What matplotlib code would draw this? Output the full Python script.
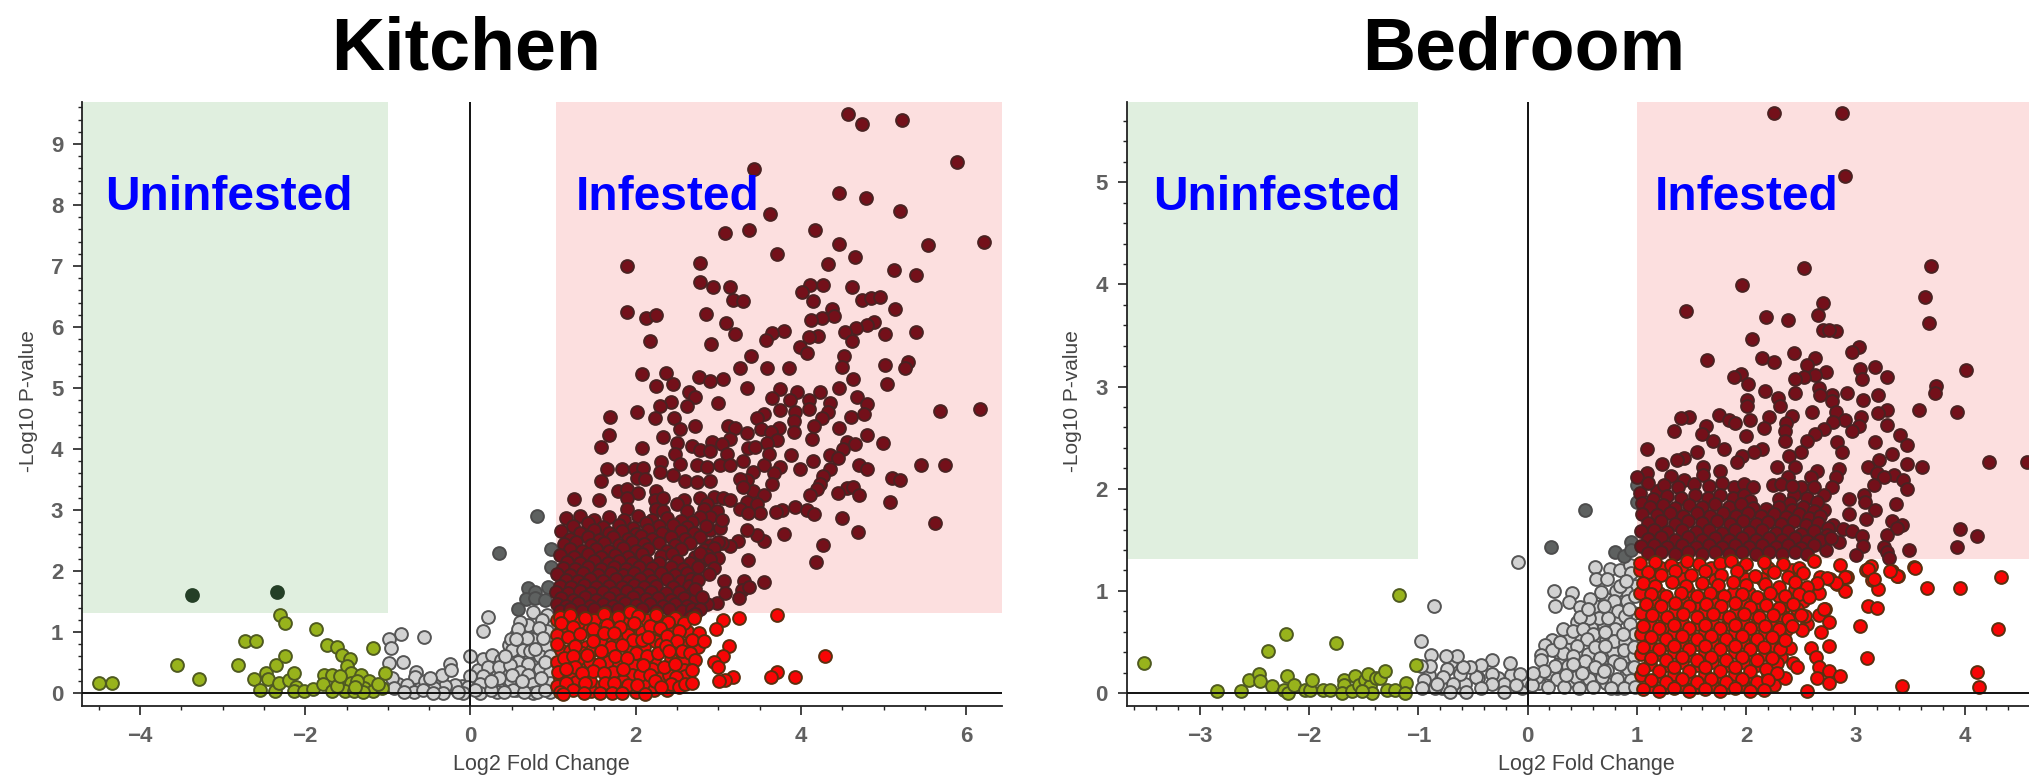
import numpy as np
import matplotlib
matplotlib.use('Agg')
import matplotlib.pyplot as plt

plt.rcParams['font.family'] = ['Liberation Sans', 'DejaVu Sans']

W, H = 2029, 777

# values as (log2 fold change, -log10 p)
KITCHEN_GREEN = [(-4.49,.17),(-4.34,.17),(-3.55,.45),(-3.29,.22),(-2.81,.45),(-2.73,.85),(-2.6,.85),(-2.62,.22),
	(-2.55,.04),(-2.47,.32),(-2.45,.22),(-2.3,1.28),(-2.24,1.14),(-2.35,.45),(-2.24,.6),(-2.36,.03),(-2.32,.17),
	(-2.2,.21),(-2.14,.32),(-2.11,.1),(-2.13,.03),(-2.02,.03),(-1.9,.06),(-1.87,1.05),(-1.74,.79),(-1.62,.76),
	(-1.55,.62),(-1.46,.55),(-1.5,.44),(-1.44,.32),(-1.77,.29),(-1.67,.29),(-1.78,.15),(-1.67,.03),(-1.54,.17),
	(-1.44,.17),(-1.52,.03),(-1.32,.29),(-1.23,.19),(-1.29,.08),(-1.18,.73),(-1.18,.03),(-1.03,.33),(-1.07,.08),
	(-1.41,.03),(-1.37,.19),(-1.62,.12),(-1.3,.02),(-1.58,.28),(-1.4,.1),(-1.12,.15)]
KITCHEN_DARKGREEN = [(-3.37,1.61),(-2.34,1.65)]
KITCHEN_GREY = [(.76,1.32),(.93,1.28),(.216,1.25),(.147,1.02),(.86,1.2),(.6,1.17),(.58,1.04),(.93,1.02),(.83,1.06),
	(.49,.88),(.74,.88),(.5,.7),(.63,.7),(.72,.68),(.91,.77),(.84,.6),(.96,.6),(0,.6),(.155,.55),(.264,.62),(.37,.54),
	(.57,.51),(.7,.47),(.84,.4),(.96,.35),(.216,.43),(.345,.42),(.48,.46),(.6,.35),(.7,.29),(.48,.21),(.32,.13),
	(.155,.27),(.115,.15),(.64,.13),(.76,.15),(.96,.16),(0,.27),(-.03,.1),(-.19,.13),(-.31,.12),(-.34,.29),(-.25,.47),
	(-.24,.38),(-.66,.35),(-.67,.26),(-.56,.91),(-.84,.97),(-.99,.88),(-.96,.73),(-.99,.49),(-.82,.51),(-.95,.24),
	(-.93,.08),(-.77,.13),(-.68,.02),(-.55,.19),(-.44,.08),(-.49,.24),(-.57,.05),(-.33,0),(-.09,0),(.115,0),(.32,.02),
	(.52,.05),(.76,0),(.96,.02),(.25,.05),(.4,.02),(.65,.02),(.8,.02),(.9,.05),(.5,.3),(.35,.25),(.25,.2),(.05,.05),
	(-.15,.02),(-.45,0),(-.8,.02),(.85,.25),(.9,.5),(.62,.2),(.42,.6),(.78,.72),(.68,.9),(.88,.9),(.55,.88)]
KITCHEN_GREY_FILL = [(.3,.3),(.2,.12),(.42,.15),(.55,.05),(.7,.08),(.85,.1),(.56,.25),(.72,.18),(.9,.2),(.42,.38),(.52,.42),(.65,.4),
	(.78,.35),(.9,.38),(.28,.5),(.5,.58),(.62,.6),(.72,.58),(.82,.5),(.6,.82),(.47,.78),(.68,.78),(.82,.8),(.98,.85),(.7,1.12),(.82,.95),
	(.95,1.12),(.55,.95),(.4,.1),(.08,.12),(.18,.35),(.09,.38),(-.1,.12),(-.22,.1),(-.38,.12),(-.6,.12),(-.88,.15)]
KITCHEN_DARKGREY = [(.345,2.3),(.97,2.36),(.97,2.06),(.7,1.72),(.78,1.66),(.67,1.54),(.78,1.55),(.94,1.74),(.9,1.52),
	(.575,1.37),(.8,2.9)]
KITCHEN_DARK = [(4.57,9.5),(4.74,9.33),(5.22,9.39),(5.89,8.71),(3.43,8.59),(4.46,8.19),(4.78,8.11),(5.2,7.91),(3.62,7.85),
	(3.08,7.54),(3.37,7.59),(4.17,7.59),(4.46,7.36),(5.53,7.34),(6.21,7.39),(3.71,7.19),(4.65,7.14),(1.89,7.0),(2.78,7.05),
	(4.33,7.03),(5.12,6.94),(5.39,6.85),(2.78,6.74),(2.93,6.65),(3.14,6.65),(4.11,6.69),(4.27,6.69),(4.01,6.58),(4.61,6.65),
	(3.18,6.44),(3.3,6.42),(4.14,6.42),(4.74,6.45),(4.84,6.48),(4.96,6.49),(5.14,6.29),(1.89,6.25),(2.85,6.22),(2.12,6.15),
	(2.25,6.2),(4.37,6.29),(4.4,6.18),(4.25,6.15),(4.12,6.11),(3.09,6.06),(3.2,5.88),(4.88,6.09),(4.8,6.03),(4.66,5.98),
	(4.53,5.92),(5.01,5.88),(5.39,5.92),(2.17,5.77),(2.91,5.72),(3.79,5.94),(3.65,5.9),(3.58,5.79),(4.21,5.86),(4.09,5.83),
	(4.61,5.77),(3.99,5.68),(4.07,5.57),(3.39,5.52),(4.52,5.52),(4.5,5.34),(3.26,5.32),(3.59,5.32),(3.85,5.32),(5.01,5.37),
	(5.29,5.43),(5.26,5.32),(2.08,5.23),(2.36,5.25),(4.63,5.14),(5.04,5.06),(2.76,5.18),(2.9,5.11),(3.06,5.14),(2.25,5.03),
	(2.45,5.06),(3.34,5.0),(4.46,5.0),(2.64,4.93),(3.75,4.99),(3.95,4.93),(4.23,4.93),(4.67,4.86),(2.72,4.86),(3.65,4.84),
	(3.87,4.8),(4.1,4.8),(2.43,4.77),(2.99,4.75),(4.35,4.75),(4.8,4.73),(5.68,4.63),(6.16,4.66),(2.29,4.7),(2.62,4.7),
	(3.75,4.64),(4.09,4.66),(4.33,4.6),(2.02,4.6),(1.69,4.53),(3.93,4.6),(4.76,4.57),(3.55,4.57),(2.23,4.5),(2.46,4.5),
	(3.46,4.5),(4.6,4.52),(3.91,4.46),(4.25,4.5),(4.15,4.37),(2.54,4.32),(2.72,4.37),(3.12,4.37),(3.2,4.34),(3.73,4.35),
	(3.91,4.28),(4.46,4.35),(3.34,4.27),(3.52,4.32),(3.63,4.28),(1.67,4.23),(2.33,4.2),(4.8,4.23),(3.71,4.14),(3.59,4.1),
	(4.13,4.17),(2.5,4.1),(3.14,4.17),(4.99,4.09),(4.55,4.12),(4.65,4.08),(4.51,4.0),(2.92,4.12),(3.04,4.08),(2.68,4.05),
	(2.78,3.99),(1.58,4.03),(2.07,4.01),(3.36,4.01),(3.44,4.03),(2.48,3.92),(3.1,3.92),(2.9,3.96),(3.88,3.9),(4.35,3.9),
	(4.45,3.85),(4.14,3.81),(3.3,3.81),(3.61,3.91),(2.54,3.76),(2.31,3.78),(2.74,3.74),(2.86,3.71),(3.02,3.74),(3.14,3.74),
	(5.45,3.73),(5.74,3.73),(4.7,3.74),(4.8,3.67),(3.75,3.71),(3.55,3.73),(1.65,3.67),(1.83,3.67),(1.99,3.67),(2.09,3.69),
	(3.99,3.67),(4.35,3.67),(3.42,3.63),(3.67,3.6),(4.27,3.56),(2.29,3.63),(2.45,3.58),(2.01,3.53),(2.11,3.51),(1.58,3.47),
	(3.34,3.49),(5.1,3.53),(5.2,3.49),(2.6,3.47),(2.74,3.46),(2.9,3.48),(4.23,3.42),(3.65,3.42),(3.26,3.5),(4.55,3.36),
	(4.63,3.38),(4.45,3.28),(4.19,3.35),(1.79,3.31),(1.89,3.35),(2.03,3.28),(2.25,3.31),(3.42,3.31),(3.3,3.38),(4.7,3.24),
	(4.11,3.24),(3.55,3.24),(1.25,3.18),(1.56,3.17),(1.89,3.2),(2.23,3.17),(2.33,3.2),(2.78,3.2),(2.94,3.22),(3.06,3.2),
	(3.14,3.17),(2.58,3.17),(2.5,3.1),(5.07,3.13),(3.34,3.13),(2.86,3.1),(3.46,3.1),(3.93,3.05),(3.77,3.0),(3.69,2.97),
	(4.07,3.0),(4.15,2.93),(3.5,2.95),(1.89,3.01),(2.25,3.02),(2.33,2.99),(2.62,2.99),(2.82,3.02),(2.98,2.99),(3.26,3.02),
	(3.36,2.95),(4.5,2.87),(5.62,2.79),(4.69,2.64),(3.79,2.61),(4.27,2.43),(4.18,2.15),(3.36,2.18),(3.55,2.49),(3.46,2.59),
	(3.34,2.67),(3.24,2.49),(3.14,2.41),(3.04,2.45),(2.9,2.67),(3.02,2.7),(2.9,2.88),(3.04,2.84),(2.78,2.88),(2.68,2.81),
	(1.15,2.86),(1.33,2.9),(1.5,2.83),(1.67,2.88),(1.86,2.84),(2.03,2.9),(2.2,2.83),(2.38,2.87),(2.55,2.82),
	(1.24,2.74),(1.42,2.78),(1.6,2.72),(1.8,2.76),(1.97,2.7),(2.12,2.78),(2.28,2.73),(2.45,2.76),(2.62,2.72),(2.85,2.74),
	(1.1,2.65),(1.33,2.62),(1.5,2.67),(1.68,2.63),(1.83,2.66),(2.0,2.61),(2.15,2.67),(2.32,2.63),(2.55,2.66),(2.7,2.62),
	(1.2,2.53),(1.42,2.56),(1.56,2.51),(1.72,2.55),(1.9,2.52),(2.06,2.57),(2.2,2.52),(2.42,2.55),(2.6,2.52),(2.78,2.56),
	(1.13,2.44),(1.28,2.47),(1.46,2.43),(1.62,2.46),(1.8,2.42),(1.95,2.47),(2.1,2.44),(2.28,2.46),(2.48,2.42),(2.65,2.45),(2.9,2.43),(3.0,2.47),
	(1.2,2.36),(1.35,2.33),(1.52,2.36),(1.67,2.33),(1.85,2.37),(2.0,2.33),(2.15,2.36),(2.38,2.33),(2.55,2.36),(2.82,2.34),(2.95,2.37),
	(1.08,2.26),(1.25,2.23),(1.42,2.27),(1.58,2.23),(1.75,2.26),(1.9,2.23),(2.07,2.27),(2.3,2.24),(2.44,2.27),(2.72,2.23),(2.86,2.26),(3.0,2.22),
	(1.17,2.15),(1.33,2.13),(1.5,2.17),(1.66,2.13),(1.8,2.16),(1.95,2.13),(2.12,2.17),(2.28,2.13),(2.5,2.16),(2.65,2.13),(2.8,2.16),
	(1.12,2.05),(1.27,2.03),(1.42,2.07),(1.58,2.03),(1.73,2.06),(1.88,2.03),(2.04,2.07),(2.2,2.04),(2.42,2.06),(2.57,2.03),(2.75,2.06),
	(1.05,1.95),(1.2,1.93),(1.36,1.97),(1.54,1.93),(1.7,1.96),(1.84,1.93),(1.98,1.97),(2.15,1.94),(2.3,1.96),(2.48,1.93),(2.62,1.96),
	(1.15,1.85),(1.3,1.83),(1.44,1.87),(1.6,1.83),(1.76,1.86),(1.9,1.83),(2.05,1.87),(2.2,1.84),(2.38,1.86),(2.55,1.83),(2.67,1.86),
	(1.08,1.75),(1.22,1.73),(1.37,1.77),(1.52,1.73),(1.68,1.76),(1.83,1.73),(1.98,1.77),(2.1,1.74),(2.25,1.76),(2.45,1.73),(2.64,1.76),
	(1.04,1.65),(1.18,1.63),(1.33,1.67),(1.46,1.63),(1.6,1.66),(1.74,1.63),(1.89,1.67),(2.03,1.64),(2.18,1.66),(2.36,1.63),(2.52,1.66),(2.68,1.63),
	(1.1,1.55),(1.24,1.53),(1.38,1.57),(1.52,1.53),(1.67,1.56),(1.82,1.53),(1.97,1.57),(2.12,1.54),(2.27,1.56),(2.42,1.53),(2.58,1.56),(2.72,1.52),
	(1.05,1.45),(1.15,1.43),(1.3,1.47),(1.44,1.43),(1.6,1.46),(1.72,1.43),(1.87,1.47),(2.0,1.44),(2.17,1.46),(2.33,1.43),(2.47,1.46),(2.62,1.43),
	(1.08,1.35),(1.2,1.37),(1.35,1.34),(1.5,1.37),(1.64,1.34),(1.78,1.37),(1.93,1.35),(2.08,1.37),(2.24,1.34),(2.4,1.37),(2.56,1.35),(2.68,1.37),
	(3.07,1.83),(3.31,1.84),(3.55,1.82),(3.08,1.63),(3.28,1.68),(3.37,1.73),(3.25,1.55),(2.98,1.48),(2.86,1.46),
	(2.78,2.3),(2.9,2.2),(2.95,2.05),(2.88,1.95),(2.75,1.85),(2.72,1.7),(2.8,1.58),(2.78,1.38),(2.72,1.3),(2.65,1.25)]
KITCHEN_RED_FILL = [(1.05,1.2),(1.18,1.2),(1.5,1.2),(1.7,1.2),(1.88,1.2),(2.13,1.2),(2.3,1.18),(2.48,1.22),
	(1.1,1.02),(1.37,1.1),(1.55,1.0),(1.72,1.05),(1.9,1.02),(2.08,1.0),(2.25,1.0),(2.42,1.05),(2.62,1.02),
	(1.05,.95),(1.25,.85),(1.4,.75),(1.57,.85),(1.72,.87),(1.87,.9),(2.23,.85),(2.45,.75),(2.6,.78),(2.75,.75),
	(1.1,.7),(1.2,.68),(1.35,.65),(1.47,.7),(1.68,.65),(1.93,.72),(2.22,.52),(2.42,.55),(2.58,.55),
	(1.05,.5),(1.2,.5),(1.33,.5),(1.45,.5),(1.66,.5),(1.8,.48),(1.97,.45),(2.2,.4),(2.35,.32),(2.58,.38),
	(1.08,.25),(1.2,.3),(1.72,.35),(1.95,.3),(2.3,.25),(2.4,.3),(2.6,.28),
	(1.05,.12),(1.28,.18),(1.52,.1),(1.85,.2),(2.12,.15),(2.38,.05),(2.0,.02),(2.22,.05),(1.46,.03)]
KITCHEN_RED = [(1.08,1.25),(1.05,.8),(1.06,.35),(1.3,.55),(1.5,.95),(1.3,1.15),(1.7,.75),(1.9,.95),(2.1,.75),(1.45,.2),(2.05,.3),(2.3,.8),
	(1.2,1.28),(1.39,1.22),(1.61,1.3),(1.78,1.25),(1.93,1.32),(2.03,1.26),(2.25,1.28),(2.39,1.17),(2.58,1.14),(2.7,1.22),
	(1.1,1.14),(1.24,1.08),(1.48,1.05),(1.65,1.11),(1.81,1.08),(1.98,1.14),(2.17,1.09),(2.29,1.06),(2.52,1.02),(2.76,.98),
	(1.18,.92),(1.33,.97),(1.48,.85),(1.61,.98),(1.74,.99),(1.96,.86),(2.07,.87),(2.15,.91),(2.38,.93),(2.5,.85),(2.68,.86),(2.82,.85),
	(1.27,.77),(1.58,.69),(1.83,.79),(2.0,.65),(2.13,.6),(2.27,.65),(2.36,.77),(2.4,.68),(2.56,.69),(2.66,.65),(2.72,.54),
	(1.13,.58),(1.24,.61),(1.41,.62),(1.75,.6),(1.56,.47),(1.89,.57),(2.09,.45),(2.34,.43),(2.48,.47),
	(1.27,.42),(1.16,.4),(1.84,.39),(2.68,.37),(1.48,.36),(1.61,.32),(1.35,.32),(2.17,.29),(2.49,.26),
	(1.16,.17),(1.39,.17),(1.63,.17),(1.74,.17),(1.91,.13),(2.02,.13),(2.23,.2),(2.42,.15),(2.52,.1),(2.31,.09),(2.6,.15),(2.68,.17),
	(1.08,.02),(1.24,.05),(1.37,0),(1.57,0),(1.71,0),(1.83,0),(2.11,-.02),(1.12,-.02),
	(3.05,1.2),(3.25,1.22),(2.97,1.05),(3.71,1.28),(3.13,.77),(3.05,.61),(2.94,.5),(3.0,.42),(4.29,.6),(3.18,.26),(3.08,.21),(3.01,.2),
	(3.71,.34),(3.63,.26),(3.92,.26)]

BEDROOM_GREEN = [(-3.51,.29),(-2.84,.02),(-2.62,.02),(-2.55,.13),(-2.46,.19),(-2.45,.12),(-2.38,.41),(-2.34,.07),(-2.21,.58),(-2.2,.17),
	(-2.23,.03),(-2.19,0),(-2.14,.08),(-2.04,.03),(-1.99,.03),(-1.97,.13),(-1.87,.03),(-1.81,.03),(-1.75,.49),(-1.68,.13),(-1.68,.08),
	(-1.7,0),(-1.58,.17),(-1.61,.02),(-1.54,.08),(-1.49,.13),(-1.44,.07),(-1.46,.19),(-1.39,.15),(-1.35,.15),(-1.31,.22),(-1.42,0),
	(-1.29,.03),(-1.21,.03),(-1.18,.96),(-1.11,.1),(-1.12,0),(-1.02,.27),(-1.52,.02)]
BEDROOM_GREY = [(-.09,1.28),(-.86,.85),(-.98,.51),(.24,1.0),(.41,.98),(.25,.85),(.38,.89),(.57,.92),(.48,.84),(.62,1.23),(.75,1.21),(.85,1.2),
	(.63,1.12),(.73,1.12),(.67,.99),(.81,1.0),(.94,1.25),(.95,1.17),(.79,.9),(.91,.9),(.83,.8),(.89,.75),(.65,.73),(.56,.73),(.48,.74),(.74,.73),
	(.94,.68),(.32,.63),(.42,.61),(.51,.63),(.6,.58),(.8,.63),(.71,.6),(.98,.58),(.54,.53),(.79,.51),(.89,.5),(.22,.52),(.16,.47),(.45,.46),
	(.62,.45),(.71,.46),(.32,.39),(.22,.42),(.42,.36),(.88,.42),(.97,.36),(.12,.37),(.12,.32),(.53,.31),(.66,.34),(.79,.31),(.25,.26),(.73,.23),
	(.92,.24),(.37,.26),(.09,.16),(.27,.14),(.44,.16),(.56,.14),(.68,.16),(.82,.14),(.95,.13),(.04,.08),(.19,.06),(.33,.06),(.47,.05),(.6,.06),
	(.76,.05),(.88,.05),(.98,.06),(-.16,.29),(-.07,.19),(-.22,.09),(-.11,.08),(-.33,.32),(-.33,.19),(-.33,.09),(-.43,.27),(-.47,.16),(-.43,.05),
	(-.57,.09),(-.53,.25),(-.62,.19),(-.59,.25),(-.65,.36),(-.75,.36),(-.88,.37),(-.74,.24),(-.77,.16),(-.68,.09),(-.89,.26),(-.98,.26),(-.95,.13),
	(-.97,.05),(-.85,.05),(-.71,.01),(-.56,.01),(-.83,.09),(-.22,.01),(.85,1.05),(.9,1.1),(.7,.85),(.55,.82),(.93,.82),(.98,.95),(.87,.58),(.97,.45),
	(.5,.2),(.35,.18),(.15,.22),(.62,.25),(.85,.28),(.97,.25),(.05,.2),(.3,.5),(.42,.28),(.7,.22)]
BEDROOM_GREY_FILL = [(.1,.1),(.2,.2),(.3,.3),(.38,.12),(.5,.1),(.62,.15),(.72,.1),(.82,.05),(.9,.18),(.55,.38),(.68,.28),(.78,.4),(.87,.33),(.62,.52),
	(.72,.52),(.48,.55),(.38,.48),(.28,.4),(.82,.72),(.7,.67),(.58,.65),(.52,.8),(.62,.85),(.72,.92),(.88,.95),(.98,1.05),(.9,1.0),(.97,.78),(.82,.57),
	(.45,.7),(.38,.55),(-.45,.15),(-.6,.05),(-.27,.15),(-.15,.18),(-.05,.05),(.0,.12),(-.78,.05),(-.9,.18),(-.7,.3)]
BEDROOM_DARKGREY = [(.21,1.43),(.53,1.79),(.8,1.38),(.88,1.34),(.95,1.48),(.95,1.4),(1.0,2.04),(1.0,1.87)]
BEDROOM_DARK = [(2.26,5.68),(2.88,5.68),(2.91,5.06),(3.69,4.18),(2.53,4.16),(1.96,3.99),(3.64,3.88),(2.7,3.82),(1.45,3.74),(2.66,3.7),(2.18,3.68),
	(2.38,3.65),(3.67,3.62),(2.7,3.55),(2.82,3.54),(2.76,3.55),(2.05,3.47),(3.03,3.39),(2.97,3.34),(2.44,3.33),(2.15,3.28),(2.26,3.24),(1.64,3.26),
	(2.63,3.28),(2.56,3.21),(4.01,3.16),(3.18,3.19),(3.04,3.17),(3.06,3.07),(3.29,3.09),(2.73,3.14),(2.63,3.11),(2.53,3.09),(2.45,3.07),(1.95,3.12),
	(1.89,3.09),(2.02,3.02),(3.74,3.01),(3.73,2.94),(2.17,2.96),(2.67,2.99),(2.92,2.94),(3.21,2.92),(2.45,2.94),(2.79,2.92),(2.01,2.87),(2.29,2.89),
	(3.07,2.87),(2.68,2.92),(2.79,2.86),(2.01,2.81),(2.31,2.81),(3.58,2.77),(3.93,2.75),(2.6,2.75),(3.29,2.77),(3.21,2.74),(2.82,2.75),(1.75,2.72),
	(1.48,2.7),(1.4,2.69),(2.42,2.71),(2.21,2.7),(3.05,2.7),(2.91,2.67),(2.37,2.64),(1.84,2.67),(1.9,2.64),(2.04,2.67),(1.34,2.56),(1.63,2.61),(2.16,2.59),
	(3.29,2.62),(3.03,2.61),(2.8,2.65),(2.71,2.58),(2.97,2.56),(2.63,2.54),(2.36,2.56),(3.41,2.53),(1.6,2.54),(2.0,2.52),(2.56,2.47),(3.18,2.46),(2.36,2.47),
	(1.7,2.47),(2.83,2.46),(3.47,2.43),(2.5,2.36),(1.8,2.39),(2.88,2.36),(1.09,2.39),(1.55,2.36),(2.15,2.39),(2.07,2.36),(1.96,2.32),(3.34,2.34),(2.39,2.32),
	(1.43,2.3),(1.37,2.28),(4.22,2.26),(4.57,2.26),(1.23,2.24),(3.22,2.28),(3.47,2.24),(1.61,2.21),(2.45,2.21),(3.61,2.21),(3.12,2.21),(1.92,2.26),(2.28,2.21),
	(2.85,2.19),(1.09,2.15),(1.76,2.17),(3.2,2.15),(3.35,2.13),(2.65,2.17),(1.0,2.11),(1.31,2.12),(1.61,2.13),(1.43,2.09),(2.38,2.11),(3.26,2.11),(3.44,2.09),
	(2.82,2.11),(2.59,2.11),(3.17,2.04),(3.47,2.0),(2.79,2.02),(2.5,2.02),(2.25,2.04),(1.89,2.02),(1.18,1.98),(1.03,1.96),(3.08,1.94),(2.94,1.9),(3.37,1.85),
	(3.09,1.87),(2.71,1.94),(2.44,1.94),(2.94,1.75),(3.18,1.79),(2.71,1.79),(3.1,1.7),(3.34,1.68),(3.43,1.64),(3.38,1.62),(2.8,1.64),(2.89,1.61),(2.97,1.59),
	(3.96,1.61),(4.11,1.54),(3.29,1.55),(3.06,1.54),(2.85,1.48),(3.93,1.43),(3.26,1.43),(3.07,1.44),(3.49,1.4),(3.29,1.38),(3.31,1.32),(3.01,1.35),(2.73,1.4),
	(1.1,2.06),(1.25,2.04),(1.38,2.02),(1.52,2.05),(1.66,2.03),(1.78,2.06),(1.98,2.05),(2.06,2.02),(2.32,2.05),(2.42,2.03),(2.62,2.02),
	(1.05,1.86),(1.15,1.9),(1.28,1.93),(1.4,1.91),(1.53,1.94),(1.65,1.91),(1.76,1.94),(1.88,1.91),(1.98,1.94),(2.04,1.88),(2.3,1.9),(2.4,1.86),(2.56,1.91),(2.65,1.87),
	(1.12,1.82),(1.24,1.84),(1.35,1.81),(1.48,1.84),(1.6,1.82),(1.72,1.85),(1.84,1.82),(1.95,1.85),(2.06,1.81),(2.18,1.8),(2.3,1.82),(2.42,1.79),(2.52,1.82),(2.62,1.78),
	(1.05,1.75),(1.18,1.74),(1.3,1.76),(1.42,1.73),(1.55,1.76),(1.67,1.73),(1.79,1.76),(1.91,1.73),(2.02,1.76),(2.14,1.73),(2.26,1.75),(2.37,1.72),(2.48,1.75),(2.58,1.71),(2.68,1.73),
	(1.1,1.66),(1.22,1.68),(1.35,1.65),(1.47,1.68),(1.6,1.66),(1.73,1.68),(1.85,1.65),(1.97,1.68),(2.09,1.65),(2.2,1.67),(2.32,1.65),(2.44,1.68),(2.55,1.64),(2.66,1.66),(2.75,1.62),
	(1.04,1.59),(1.16,1.6),(1.28,1.58),(1.41,1.6),(1.54,1.58),(1.66,1.6),(1.78,1.57),(1.9,1.6),(2.03,1.58),(2.15,1.6),(2.27,1.57),(2.38,1.59),(2.5,1.56),(2.62,1.59),(2.74,1.55),
	(1.1,1.51),(1.22,1.53),(1.35,1.5),(1.47,1.53),(1.6,1.5),(1.72,1.52),(1.84,1.5),(1.96,1.52),(2.09,1.5),(2.21,1.52),(2.33,1.5),(2.45,1.52),(2.56,1.49),(2.68,1.5),(2.78,1.52),
	(1.04,1.44),(1.16,1.45),(1.28,1.43),(1.41,1.45),(1.54,1.43),(1.66,1.45),(1.78,1.43),(1.9,1.45),(2.03,1.43),(2.15,1.45),(2.27,1.43),(2.38,1.45),(2.5,1.42),(2.62,1.45),
	(1.1,1.37),(1.22,1.38),(1.35,1.36),(1.47,1.38),(1.6,1.36),(1.72,1.38),(1.84,1.36),(1.96,1.38),(2.09,1.36),(2.21,1.38),(2.33,1.36),(2.45,1.38),(2.56,1.36)]
BEDROOM_RED_FILL = [(1.03,1.2),(1.22,1.22),(1.4,1.22),(1.68,1.22),(1.95,1.22),(2.2,1.22),(2.42,1.2),
	(1.15,1.1),(1.42,1.12),(1.72,1.11),(2.0,1.12),(2.15,1.12),(2.45,1.02),
	(1.03,.98),(1.2,.98),(1.47,1.0),(1.74,1.0),(1.88,.98),(2.03,.98),(2.3,.95),(2.52,.9),
	(1.15,.9),(1.42,.9),(1.56,.87),(1.7,.88),(1.97,.9),(2.12,.88),(2.36,.85),
	(1.04,.78),(1.2,.77),(1.35,.8),(1.62,.8),(1.77,.78),(1.91,.8),(2.05,.78),(2.32,.76),(2.56,.68),
	(1.12,.68),(1.27,.66),(1.41,.7),(1.55,.68),(1.69,.7),(1.83,.68),(1.97,.7),(2.1,.68),(2.25,.65),(2.37,.62),
	(1.04,.58),(1.2,.58),(1.34,.6),(1.48,.58),(1.62,.6),(1.76,.58),(1.9,.6),(2.03,.58),(2.17,.6),(2.32,.55),
	(1.12,.48),(1.27,.48),(1.41,.5),(1.55,.48),(1.69,.5),(1.83,.48),(1.97,.5),(2.1,.48),(2.26,.45),
	(1.04,.38),(1.2,.38),(1.34,.4),(1.48,.37),(1.62,.4),(1.76,.37),(1.9,.4),(2.03,.38),(2.17,.38),(2.32,.35),
	(1.12,.28),(1.27,.27),(1.41,.3),(1.55,.27),(1.69,.3),(1.83,.27),(1.97,.3),(2.1,.27),
	(1.04,.18),(1.2,.17),(1.34,.19),(1.48,.16),(1.62,.19),(1.76,.16),(1.9,.19),(2.04,.17),(2.2,.18),
	(1.13,.07),(1.27,.06),(1.41,.08),(1.55,.06),(1.69,.08),(1.83,.06),(1.97,.08),(2.1,.06),(2.26,.08)]
BEDROOM_RED = [(2.62,1.29),(2.86,1.25),(3.1,1.2),(3.14,1.24),(3.34,1.19),(3.39,1.15),(3.54,1.23),(2.92,1.14),(2.77,1.12),(2.68,1.14),(3.15,1.11),(2.83,1.07),
	(3.21,1.02),(2.91,1.0),(2.67,.98),(3.12,.85),(3.2,.83),(2.72,.82),(2.67,.76),(2.76,.7),(3.04,.66),(2.47,.82),(2.54,.75),(2.69,.6),(2.51,.62),(2.76,.46),
	(2.59,.44),(2.4,.44),(2.31,.43),(2.64,.35),(3.11,.34),(2.43,.29),(2.47,.25),(2.67,.25),(2.76,.22),(2.86,.17),(2.65,.15),(2.76,.1),(3.43,.07),(2.56,.02),(2.36,.15),
	(2.28,.29),(4.33,1.14),(3.96,1.03),(3.66,1.03),(3.55,1.22),(3.38,1.15),(3.32,1.19),(3.12,1.21),(3.17,1.12),(4.31,.63),(4.11,.21),(4.13,.06),(2.91,1.14),(2.82,1.08),
	(2.74,1.13),(2.65,1.08),(2.71,.82),
	(1.03,1.27),(1.17,1.28),(1.31,1.25),(1.46,1.29),(1.57,1.26),(1.76,1.27),(1.86,1.29),(2.0,1.26),(2.16,1.28),(2.34,1.26),(2.48,1.22),
	(1.1,1.18),(1.22,1.16),(1.35,1.19),(1.5,1.16),(1.62,1.19),(1.77,1.16),(1.92,1.19),(2.08,1.15),(2.26,1.18),(2.38,1.14),(2.52,1.17),
	(1.06,1.08),(1.17,1.05),(1.32,1.09),(1.45,1.05),(1.6,1.08),(1.74,1.06),(1.88,1.09),(2.0,1.06),(2.17,1.07),(2.3,1.04),(2.45,1.09),(2.56,1.04),
	(1.13,.97),(1.27,.95),(1.4,.98),(1.55,.95),(1.67,.98),(1.8,.95),(1.96,.97),(2.1,.94),(2.22,.98),(2.36,.95),(2.48,.97),(2.58,.94),
	(1.08,.87),(1.22,.85),(1.35,.88),(1.48,.85),(1.63,.87),(1.77,.85),(1.9,.88),(2.04,.84),(2.18,.86),(2.3,.83),(2.43,.87),
	(1.14,.76),(1.28,.74),(1.42,.77),(1.55,.74),(1.7,.77),(1.84,.74),(1.98,.77),(2.12,.74),(2.25,.76),(2.38,.72),(2.5,.76),
	(1.06,.66),(1.2,.64),(1.34,.67),(1.48,.64),(1.62,.67),(1.76,.64),(1.9,.67),(2.04,.64),(2.17,.66),(2.3,.63),(2.42,.66),
	(1.13,.55),(1.27,.53),(1.41,.56),(1.55,.53),(1.68,.56),(1.82,.53),(1.96,.56),(2.1,.53),(2.24,.55),(2.36,.52),
	(1.06,.45),(1.2,.43),(1.34,.46),(1.48,.43),(1.62,.46),(1.76,.43),(1.9,.46),(2.04,.43),(2.16,.45),
	(1.13,.34),(1.27,.32),(1.41,.35),(1.55,.32),(1.68,.35),(1.82,.32),(1.96,.35),(2.1,.32),(2.24,.34),
	(1.06,.24),(1.2,.22),(1.34,.25),(1.48,.22),(1.62,.25),(1.76,.22),(1.9,.25),(2.04,.22),(2.18,.24),(2.28,.2),
	(1.13,.13),(1.27,.11),(1.41,.14),(1.55,.11),(1.68,.14),(1.82,.11),(1.96,.14),(2.1,.11),(2.2,.13),
	(1.06,.04),(1.2,.02),(1.34,.05),(1.48,.02),(1.62,.04),(1.76,.02),(1.9,.05),(2.04,.02),(2.16,.03)]

GREEN_EDGE = '#4f5a20'
MARKER = 85


def dots(ax, points, face, edge, z):
	xs, ys = np.array(points).T
	ax.scatter(xs, ys, s=MARKER, c=face, edgecolors=edge, linewidths=1.4, zorder=z)


def panel(box, xlim, ylim, xtick_major, xtick_minor, ytick_major, red_from, title, title_x, text_xs, label_x):
	left, right = box
	ax = plt.gcf().add_axes([left / W, 1 - 705.7 / H, (right - left) / W, 603.7 / H])
	ax.set_xlim(*xlim)
	ax.set_ylim(*ylim)
	ax.axvspan(xlim[0], -1, ymin=(1.31 - ylim[0]) / (ylim[1] - ylim[0]), color='#e0efdf', lw=0, zorder=0)
	ax.axvspan(red_from, xlim[1], ymin=(1.31 - ylim[0]) / (ylim[1] - ylim[0]), color='#fcdfdf', lw=0, zorder=0)
	ax.axvline(0, color='#111111', lw=1.4, zorder=6)
	ax.axhline(0, color='#111111', lw=1.4, zorder=6)
	ax.spines['top'].set_visible(False)
	ax.spines['right'].set_visible(False)
	for s in ['left', 'bottom']:
		ax.spines[s].set_color('#222222')
		ax.spines[s].set_linewidth(1.3)
	ax.set_xticks(xtick_major)
	ax.set_xticks(xtick_minor, minor=True)
	ax.set_yticks(ytick_major)
	ax.set_yticks(np.arange(0, ylim[1], 0.2), minor=True)
	ax.tick_params(which='major', length=6.5, width=1.2, color='#222222', labelsize=16, labelcolor='#454545')
	ax.tick_params(which='minor', length=3, width=1.0, color='#222222')
	ax.tick_params(axis='x', which='major', pad=8)
	ax.tick_params(axis='y', which='major', pad=7)
	for t in ax.get_xticklabels() + ax.get_yticklabels():
		t.set_fontweight('bold')
		t.set_color('#606060')
	ax.set_xlabel('Log2 Fold Change', fontsize=15.5, color='#444444', va='center')
	ax.xaxis.set_label_coords(label_x, -0.0966)
	ax.set_ylabel('-Log10 P-value', fontsize=15, color='#444444', va='center')
	ax.yaxis.set_label_coords(-54 / (right - left), 0.505)
	plt.gcf().text(title_x / W, 1 - 50 / H, title, fontsize=53, fontweight='bold', color='black', ha='center', va='center')
	plt.gcf().text(text_xs[0] / W, 1 - 209.5 / H, 'Uninfested', fontsize=34.5, fontweight='bold', color='#0000ff', ha='left', va='baseline', zorder=20)
	plt.gcf().text(text_xs[1] / W, 1 - 209.5 / H, 'Infested', fontsize=34.5, fontweight='bold', color='#0000ff', ha='left', va='baseline', zorder=20)
	return ax


def main():
	fig = plt.figure(figsize=(W / 100, H / 100), dpi=100, facecolor='white')

	ax = panel((82, 1002), (-4.70, 6.43), (-0.21, 9.69), [-4, -2, 0, 2, 4, 6], np.arange(-4.5, 6.5, 0.5),
		list(range(10)), 1.03, 'Kitchen', 466, (105, 576), 0.4995)
	dots(ax, KITCHEN_GREY_FILL, '#d2d2d2', '#555555', 2)
	dots(ax, KITCHEN_GREY, '#d2d2d2', '#555555', 2)
	dots(ax, KITCHEN_DARKGREY, '#5e6160', '#4c4c4c', 2)
	dots(ax, KITCHEN_GREEN, '#98b31c', GREEN_EDGE, 3)
	dots(ax, KITCHEN_DARKGREEN, '#243f26', '#243f26', 3)
	dots(ax, KITCHEN_DARK, '#74101a', '#4a2222', 4)
	dots(ax, KITCHEN_RED_FILL, '#f00a0a', '#5a3010', 5)
	dots(ax, KITCHEN_RED, '#f80505', '#5a3010', 5)

	ax = panel((1126.7, 2029), (-3.67, 4.59), (-0.124, 5.785), [-3, -2, -1, 0, 1, 2, 3, 4], np.arange(-3.6, 4.6, 0.2),
		list(range(6)), 1.0, 'Bedroom', 1524, (1153, 1655), 0.509)
	dots(ax, BEDROOM_GREY_FILL, '#d2d2d2', '#555555', 2)
	dots(ax, BEDROOM_GREY, '#d2d2d2', '#555555', 2)
	dots(ax, BEDROOM_DARKGREY, '#5e6160', '#4c4c4c', 2)
	dots(ax, BEDROOM_GREEN, '#98b31c', GREEN_EDGE, 3)
	dots(ax, BEDROOM_DARK, '#74101a', '#4a2222', 4)
	dots(ax, BEDROOM_RED_FILL, '#f00a0a', '#5a3010', 5)
	dots(ax, BEDROOM_RED, '#f80505', '#5a3010', 5)

	fig.savefig('out.png', dpi=100)


main()
